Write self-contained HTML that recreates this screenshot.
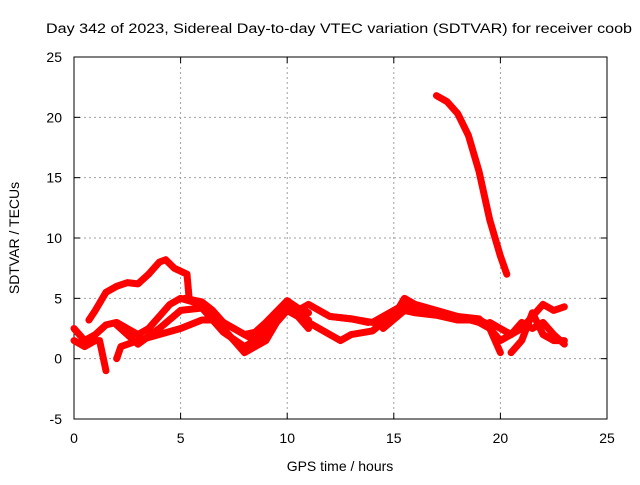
<!DOCTYPE html>
<html><head><meta charset="utf-8"><style>
body{margin:0;background:#fff;}
svg{font-family:"Liberation Sans",sans-serif;}
</style></head><body>
<svg id="chart" width="640" height="480" viewBox="0 0 640 480" xmlns="http://www.w3.org/2000/svg">
<text x="46" y="33" font-size="14.2" textLength="586" lengthAdjust="spacingAndGlyphs">Day 342 of 2023, Sidereal Day-to-day VTEC variation (SDTVAR) for receiver coob</text>
<g id="grid"></g>
<g id="axes"></g>
<g id="series"></g>
<text x="340" y="471" font-size="14" text-anchor="middle">GPS time / hours</text>
<text transform="translate(19,238) rotate(-90)" font-size="14" text-anchor="middle">SDTVAR / TECUs</text>
</svg>
<script>
const xTicks=[0,5,10,15,20,25];
const yTicks=[-5,0,5,10,15,20,25];
const sA=[[0.7,3.2],[1,4],[1.5,5.5],[2,6],[2.5,6.3],[3,6.2],[3.5,7],[4,8],[4.3,8.2],[4.7,7.5],[5.3,7],[5.4,5]];
const sB=[[5.2,5],[6,4.7],[6.5,4],[7,3],[7.5,2.5],[8,2],[8.5,1.5],[9,2.5],[9.5,3.5],[10,4.7],[10.5,4],[11,4.5],[11.5,4],[12,3.5],[13,3.3],[13.8,3]];
const sC=[[0,2.5],[0.5,1.5],[1,2],[1.5,2.8],[2,3],[2.5,2.5],[3,2],[3.5,2.5],[4,3.5],[4.5,4.5],[5,5],[6,4.5],[7,3],[8,2],[8.5,2.2],[9,3],[10,4.8],[10.5,4.2],[11,3.8]];
const sD=[[0,1.5],[0.5,1],[1,1.5],[1.2,1.5],[1.5,-1]];
const sE=[[2,0],[2.2,1],[3,1.5],[4,2],[5,2.5],[6,3.2],[6.5,3.2],[7,2.5],[7.5,1.5],[8,0.5],[8.5,1],[9,1.5],[9.5,3],[10,4],[10.5,3.5],[11,2.5]];
const sF=[[11,3],[12,2],[12.5,1.5],[13,2],[14,2.3],[14.5,3],[15,3.5],[15.5,5],[16,4.5],[17,4],[18,3.5],[19,3.3],[19.5,2.5],[20,1.5],[20.5,2],[21,2.5],[21.5,3.5],[22,4.5],[22.5,4],[23,4.3]];
const sG=[[12,3.5],[13,3.3],[14,3],[14.5,3.5],[15,4],[15.5,4.5],[16,4.2],[17,3.8],[18,3.5],[19,3],[19.5,2.5],[20,0.5]];
const sH=[[19.5,3],[20,2.5],[20.5,2],[21,3],[21.5,2.5],[22,3],[22.5,2],[23,1.2]];
const sI=[[20.5,0.5],[21,1.5],[21.5,3.8],[22,2],[22.5,1.5],[23,1.5]];
const sJ=[[17,21.8],[17.5,21.3],[18,20.3],[18.5,18.5],[19,15.5],[19.5,11.5],[20,8.5],[20.3,7]];
const sK=[[2,2.8],[3,1.2],[4,2.5],[5,4],[6,4.2],[7,2.2],[8,1],[9,2],[10,4.3],[11,3.2]];
const sL=[[14.5,2.5],[15.5,4],[16,3.8],[17,3.6],[18,3.2],[19,3.2],[19.5,2.8]];
const allSeries=[sA,sB,sC,sD,sE,sF,sG,sH,sI,sJ,sK,sL];
const L=74,R=607,T=57,B=419,xMin=0,xMax=25,yMin=-5,yMax=25;
const X=v=>L+(v-xMin)/(xMax-xMin)*(R-L);
const Y=v=>B-(v-yMin)/(yMax-yMin)*(B-T);
const NS='http://www.w3.org/2000/svg';
function mk(t,a,p){const e=document.createElementNS(NS,t);for(const k in a)e.setAttribute(k,a[k]);p.appendChild(e);return e;}
const grid=document.getElementById('grid'),axes=document.getElementById('axes'),ser=document.getElementById('series');
xTicks.forEach(t=>{
 if(t>xMin&&t<xMax){const g=mk('line',{x1:X(t),x2:X(t),y1:T,y2:B,stroke:'#a0a0a0','stroke-dasharray':'2,3'},grid);
 
 }
 mk('line',{x1:X(t),x2:X(t),y1:B,y2:B-6,stroke:'#000'},axes);
 mk('line',{x1:X(t),x2:X(t),y1:T,y2:T+6,stroke:'#000'},axes);
 const lb=mk('text',{x:X(t),y:B+24,'font-size':14,'text-anchor':'middle'},axes);lb.textContent=t;
 
 
});
yTicks.forEach(t=>{
 if(t>yMin&&t<yMax){const g=mk('line',{x1:L,x2:R,y1:Y(t),y2:Y(t),stroke:'#a0a0a0','stroke-dasharray':'2,3'},grid);
 
 }
 mk('line',{x1:L,x2:L+6,y1:Y(t),y2:Y(t),stroke:'#000'},axes);
 mk('line',{x1:R,x2:R-6,y1:Y(t),y2:Y(t),stroke:'#000'},axes);
 const lb=mk('text',{x:L-12,y:Y(t)+5,'font-size':14,'text-anchor':'end'},axes);lb.textContent=t;
 
 
});
mk('rect',{x:L,y:T,width:R-L,height:B-T,fill:'none',stroke:'#000'},axes);
allSeries.forEach(s=>{
 const p=mk('polyline',{points:s.map(d=>X(d[0])+','+Y(d[1])).join(' '),fill:'none',stroke:'#ff0000','stroke-width':7,'stroke-linejoin':'round','stroke-linecap':'round'},ser);
 
 
});
</script>
</body></html>
